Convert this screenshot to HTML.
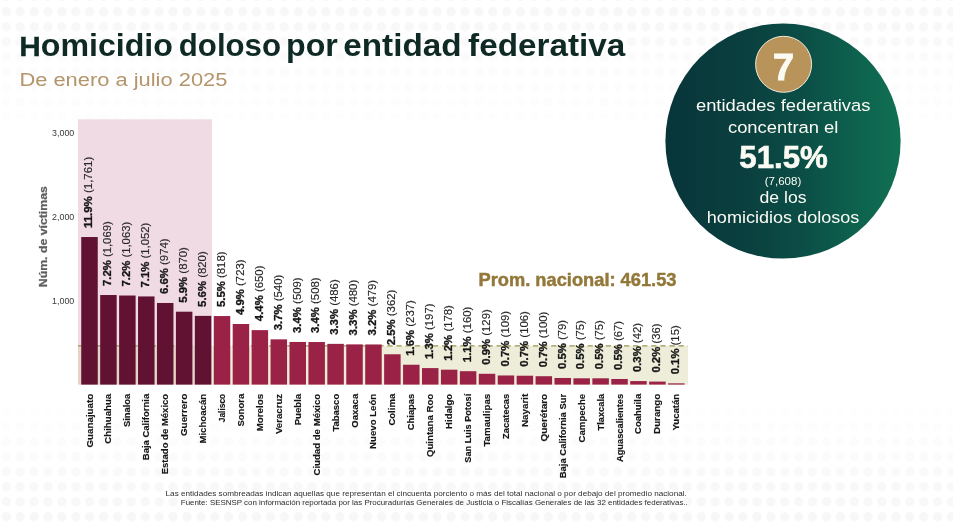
<!DOCTYPE html>
<html lang="es"><head><meta charset="utf-8"><title>Homicidio doloso por entidad federativa</title>
<style>
html,body{margin:0;padding:0;background:#fff;}
body{width:953px;height:523px;overflow:hidden;position:relative;font-family:"Liberation Sans",sans-serif;}
svg{position:absolute;left:0;top:0;display:block;}
text{font-family:"Liberation Sans",sans-serif;}
.t{font-weight:700;fill:#0f2a25;}
.st{fill:#b4946a;}
.ax{fill:#3a3a3a;font-size:8.9px;}
.yl{fill:#5e5e5e;stroke:#5e5e5e;stroke-width:0.25px;font-weight:700;font-size:11.8px;}
.bl{fill:#262626;stroke:#262626;stroke-width:0.12px;}
.bl .b{font-weight:700;fill:#161616;stroke:#161616;stroke-width:0.3px;}
.cl{fill:#161616;stroke:#161616;stroke-width:0.15px;font-weight:700;}
.fn{fill:#2e2e2e;font-size:8px;}
.cw{fill:#fbfbf4;}
</style></head><body>
<svg width="953" height="523" viewBox="0 0 953 523">
<defs>
<linearGradient id="gg" x1="0" y1="0" x2="1" y2="0"><stop offset="0" stop-color="#08353a"/><stop offset="0.35" stop-color="#0a403f"/><stop offset="0.6" stop-color="#0b4f47"/><stop offset="0.85" stop-color="#0e654f"/><stop offset="1" stop-color="#107052"/></linearGradient>
<pattern id="dots" x="-0.6" y="4.1" width="13.9" height="15.1" patternUnits="userSpaceOnUse"><circle cx="6.9" cy="7.5" r="4.7" fill="#f7f7f7"/></pattern>
<pattern id="dotsB" x="-0.6" y="12.9" width="13.9" height="15.04" patternUnits="userSpaceOnUse"><circle cx="6.9" cy="7.5" r="4.7" fill="#f7f7f7"/></pattern>
<linearGradient id="fadeT" x1="0" y1="0" x2="0" y2="1"><stop offset="0" stop-color="#fff" stop-opacity="0"/><stop offset="0.25" stop-color="#fff" stop-opacity="0.1"/><stop offset="0.5" stop-color="#fff" stop-opacity="0.65"/><stop offset="0.9" stop-color="#fff" stop-opacity="0.8"/><stop offset="1" stop-color="#fff" stop-opacity="1"/></linearGradient>
<linearGradient id="fadeB" x1="0" y1="1" x2="0" y2="0"><stop offset="0" stop-color="#fff" stop-opacity="0"/><stop offset="0.3" stop-color="#fff" stop-opacity="0.15"/><stop offset="0.55" stop-color="#fff" stop-opacity="0.6"/><stop offset="0.78" stop-color="#fff" stop-opacity="0.85"/><stop offset="1" stop-color="#fff" stop-opacity="1"/></linearGradient>
</defs>
<rect x="0" y="0" width="953" height="128" fill="url(#dots)"/><rect x="0" y="0" width="953" height="129" fill="url(#fadeT)"/>
<rect x="0" y="388" width="953" height="135" fill="url(#dotsB)"/><rect x="0" y="387" width="953" height="136" fill="url(#fadeB)"/>
<text class="t" y="55.6" font-size="30.6"><tspan x="19.2" textLength="153.7" lengthAdjust="spacingAndGlyphs"><tspan font-size="28.4" stroke="#0f2a25" stroke-width="0.35">H</tspan>omicidio</tspan> <tspan x="178.8" textLength="102.2" lengthAdjust="spacingAndGlyphs">doloso</tspan> <tspan x="286.0" textLength="51.8" lengthAdjust="spacingAndGlyphs">por</tspan> <tspan x="343.3" textLength="118.3" lengthAdjust="spacingAndGlyphs">entidad</tspan> <tspan x="468.1" textLength="157.3" lengthAdjust="spacingAndGlyphs">federativa</tspan></text>
<text class="st" x="19.4" y="85.8" font-size="19.1" textLength="208" lengthAdjust="spacingAndGlyphs">De enero a julio 2025</text>
<rect x="78" y="119.3" width="134" height="265.3" fill="#f0dbe4"/>
<rect x="78" y="345.9" width="610" height="38.7" fill="#c8c88c" fill-opacity="0.32"/>
<line x1="78" y1="345.9" x2="688" y2="345.9" stroke="#99964c" stroke-width="1.2" stroke-dasharray="5.2 3.9"/>
<text class="ax" x="74.3" y="304.0" text-anchor="end">1,000</text>
<text class="ax" x="74.3" y="220.2" text-anchor="end">2,000</text>
<text class="ax" x="74.3" y="136.4" text-anchor="end">3,000</text>
<text class="yl" transform="translate(47.4 236.7) rotate(-90)" text-anchor="middle" textLength="101" lengthAdjust="spacingAndGlyphs">Núm. de víctimas</text>
<rect x="81.25" y="237.03" width="16.5" height="147.57" fill="#611232"/>
<rect x="100.18" y="295.02" width="16.5" height="89.58" fill="#611232"/>
<rect x="119.11" y="295.52" width="16.5" height="89.08" fill="#611232"/>
<rect x="138.04" y="296.44" width="16.5" height="88.16" fill="#611232"/>
<rect x="156.97" y="302.98" width="16.5" height="81.62" fill="#611232"/>
<rect x="175.90" y="311.69" width="16.5" height="72.91" fill="#611232"/>
<rect x="194.83" y="315.88" width="16.5" height="68.72" fill="#611232"/>
<rect x="213.76" y="316.05" width="16.5" height="68.55" fill="#9b2247"/>
<rect x="232.69" y="324.01" width="16.5" height="60.59" fill="#9b2247"/>
<rect x="251.62" y="330.13" width="16.5" height="54.47" fill="#9b2247"/>
<rect x="270.55" y="339.35" width="16.5" height="45.25" fill="#9b2247"/>
<rect x="289.48" y="341.95" width="16.5" height="42.65" fill="#9b2247"/>
<rect x="308.41" y="342.03" width="16.5" height="42.57" fill="#9b2247"/>
<rect x="327.34" y="343.87" width="16.5" height="40.73" fill="#9b2247"/>
<rect x="346.27" y="344.38" width="16.5" height="40.22" fill="#9b2247"/>
<rect x="365.20" y="344.46" width="16.5" height="40.14" fill="#9b2247"/>
<rect x="384.13" y="354.26" width="16.5" height="30.34" fill="#9b2247"/>
<rect x="403.06" y="364.74" width="16.5" height="19.86" fill="#9b2247"/>
<rect x="421.99" y="368.09" width="16.5" height="16.51" fill="#9b2247"/>
<rect x="440.92" y="369.68" width="16.5" height="14.92" fill="#9b2247"/>
<rect x="459.85" y="371.19" width="16.5" height="13.41" fill="#9b2247"/>
<rect x="478.78" y="373.79" width="16.5" height="10.81" fill="#9b2247"/>
<rect x="497.71" y="375.47" width="16.5" height="9.13" fill="#9b2247"/>
<rect x="516.64" y="375.72" width="16.5" height="8.88" fill="#9b2247"/>
<rect x="535.57" y="376.22" width="16.5" height="8.38" fill="#9b2247"/>
<rect x="554.50" y="377.98" width="16.5" height="6.62" fill="#9b2247"/>
<rect x="573.43" y="378.31" width="16.5" height="6.29" fill="#9b2247"/>
<rect x="592.36" y="378.31" width="16.5" height="6.29" fill="#9b2247"/>
<rect x="611.29" y="378.99" width="16.5" height="5.61" fill="#9b2247"/>
<rect x="630.22" y="381.08" width="16.5" height="3.52" fill="#9b2247"/>
<rect x="649.15" y="381.58" width="16.5" height="3.02" fill="#9b2247"/>
<rect x="668.08" y="383.34" width="16.5" height="1.26" fill="#9b2247"/>
<text class="bl" font-size="10.3" textLength="71.3" lengthAdjust="spacingAndGlyphs" transform="translate(92.30 228.03) rotate(-90)"><tspan class="b">11.9%</tspan> (1,761)</text>
<text class="bl" font-size="10.3" textLength="64.8" lengthAdjust="spacingAndGlyphs" transform="translate(111.23 286.02) rotate(-90)"><tspan class="b">7.2%</tspan> (1,069)</text>
<text class="bl" font-size="10.3" textLength="64.8" lengthAdjust="spacingAndGlyphs" transform="translate(130.16 286.52) rotate(-90)"><tspan class="b">7.2%</tspan> (1,063)</text>
<text class="bl" font-size="10.3" textLength="64.8" lengthAdjust="spacingAndGlyphs" transform="translate(149.09 287.44) rotate(-90)"><tspan class="b">7.1%</tspan> (1,052)</text>
<text class="bl" font-size="10.3" textLength="55.6" lengthAdjust="spacingAndGlyphs" transform="translate(168.02 293.98) rotate(-90)"><tspan class="b">6.6%</tspan> (974)</text>
<text class="bl" font-size="10.3" textLength="55.6" lengthAdjust="spacingAndGlyphs" transform="translate(186.95 302.69) rotate(-90)"><tspan class="b">5.9%</tspan> (870)</text>
<text class="bl" font-size="10.3" textLength="55.6" lengthAdjust="spacingAndGlyphs" transform="translate(205.88 306.88) rotate(-90)"><tspan class="b">5.6%</tspan> (820)</text>
<text class="bl" font-size="10.3" textLength="55.6" lengthAdjust="spacingAndGlyphs" transform="translate(224.81 307.05) rotate(-90)"><tspan class="b">5.5%</tspan> (818)</text>
<text class="bl" font-size="10.3" textLength="55.6" lengthAdjust="spacingAndGlyphs" transform="translate(243.74 315.01) rotate(-90)"><tspan class="b">4.9%</tspan> (723)</text>
<text class="bl" font-size="10.3" textLength="55.6" lengthAdjust="spacingAndGlyphs" transform="translate(262.67 321.13) rotate(-90)"><tspan class="b">4.4%</tspan> (650)</text>
<text class="bl" font-size="10.3" textLength="55.6" lengthAdjust="spacingAndGlyphs" transform="translate(281.60 330.35) rotate(-90)"><tspan class="b">3.7%</tspan> (540)</text>
<text class="bl" font-size="10.3" textLength="55.6" lengthAdjust="spacingAndGlyphs" transform="translate(300.53 332.95) rotate(-90)"><tspan class="b">3.4%</tspan> (509)</text>
<text class="bl" font-size="10.3" textLength="55.6" lengthAdjust="spacingAndGlyphs" transform="translate(319.46 333.03) rotate(-90)"><tspan class="b">3.4%</tspan> (508)</text>
<text class="bl" font-size="10.3" textLength="55.6" lengthAdjust="spacingAndGlyphs" transform="translate(338.39 334.87) rotate(-90)"><tspan class="b">3.3%</tspan> (486)</text>
<text class="bl" font-size="10.3" textLength="55.6" lengthAdjust="spacingAndGlyphs" transform="translate(357.32 335.38) rotate(-90)"><tspan class="b">3.3%</tspan> (480)</text>
<text class="bl" font-size="10.3" textLength="55.6" lengthAdjust="spacingAndGlyphs" transform="translate(376.25 335.46) rotate(-90)"><tspan class="b">3.2%</tspan> (479)</text>
<text class="bl" font-size="10.3" textLength="55.6" lengthAdjust="spacingAndGlyphs" transform="translate(395.18 345.26) rotate(-90)"><tspan class="b">2.5%</tspan> (362)</text>
<text class="bl" font-size="10.3" textLength="55.6" lengthAdjust="spacingAndGlyphs" transform="translate(414.11 355.74) rotate(-90)"><tspan class="b">1.6%</tspan> (237)</text>
<text class="bl" font-size="10.3" textLength="55.6" lengthAdjust="spacingAndGlyphs" transform="translate(433.04 359.09) rotate(-90)"><tspan class="b">1.3%</tspan> (197)</text>
<text class="bl" font-size="10.3" textLength="55.6" lengthAdjust="spacingAndGlyphs" transform="translate(451.97 360.68) rotate(-90)"><tspan class="b">1.2%</tspan> (178)</text>
<text class="bl" font-size="10.3" textLength="55.6" lengthAdjust="spacingAndGlyphs" transform="translate(470.90 362.19) rotate(-90)"><tspan class="b">1.1%</tspan> (160)</text>
<text class="bl" font-size="10.3" textLength="55.6" lengthAdjust="spacingAndGlyphs" transform="translate(489.83 364.79) rotate(-90)"><tspan class="b">0.9%</tspan> (129)</text>
<text class="bl" font-size="10.3" textLength="55.6" lengthAdjust="spacingAndGlyphs" transform="translate(508.76 366.47) rotate(-90)"><tspan class="b">0.7%</tspan> (109)</text>
<text class="bl" font-size="10.3" textLength="55.6" lengthAdjust="spacingAndGlyphs" transform="translate(527.69 366.72) rotate(-90)"><tspan class="b">0.7%</tspan> (106)</text>
<text class="bl" font-size="10.3" textLength="55.6" lengthAdjust="spacingAndGlyphs" transform="translate(546.62 367.22) rotate(-90)"><tspan class="b">0.7%</tspan> (100)</text>
<text class="bl" font-size="10.3" textLength="49.1" lengthAdjust="spacingAndGlyphs" transform="translate(565.55 368.98) rotate(-90)"><tspan class="b">0.5%</tspan> (79)</text>
<text class="bl" font-size="10.3" textLength="49.1" lengthAdjust="spacingAndGlyphs" transform="translate(584.48 369.31) rotate(-90)"><tspan class="b">0.5%</tspan> (75)</text>
<text class="bl" font-size="10.3" textLength="49.1" lengthAdjust="spacingAndGlyphs" transform="translate(603.41 369.31) rotate(-90)"><tspan class="b">0.5%</tspan> (75)</text>
<text class="bl" font-size="10.3" textLength="49.1" lengthAdjust="spacingAndGlyphs" transform="translate(622.34 369.99) rotate(-90)"><tspan class="b">0.5%</tspan> (67)</text>
<text class="bl" font-size="10.3" textLength="49.1" lengthAdjust="spacingAndGlyphs" transform="translate(641.27 372.08) rotate(-90)"><tspan class="b">0.3%</tspan> (42)</text>
<text class="bl" font-size="10.3" textLength="49.1" lengthAdjust="spacingAndGlyphs" transform="translate(660.20 372.58) rotate(-90)"><tspan class="b">0.2%</tspan> (36)</text>
<text class="bl" font-size="10.3" textLength="49.1" lengthAdjust="spacingAndGlyphs" transform="translate(679.13 374.34) rotate(-90)"><tspan class="b">0.1%</tspan> (15)</text>
<text class="cl" font-size="9.6" text-anchor="end" textLength="53.7" lengthAdjust="spacingAndGlyphs" transform="translate(92.50 393.8) rotate(-90)">Guanajuato</text>
<text class="cl" font-size="9.6" text-anchor="end" textLength="49.9" lengthAdjust="spacingAndGlyphs" transform="translate(111.43 393.8) rotate(-90)">Chihuahua</text>
<text class="cl" font-size="9.6" text-anchor="end" textLength="33.3" lengthAdjust="spacingAndGlyphs" transform="translate(130.36 393.8) rotate(-90)">Sinaloa</text>
<text class="cl" font-size="9.6" text-anchor="end" textLength="66.4" lengthAdjust="spacingAndGlyphs" transform="translate(149.29 393.8) rotate(-90)">Baja California</text>
<text class="cl" font-size="9.6" text-anchor="end" textLength="80.5" lengthAdjust="spacingAndGlyphs" transform="translate(168.22 393.8) rotate(-90)">Estado de México</text>
<text class="cl" font-size="9.6" text-anchor="end" textLength="42.3" lengthAdjust="spacingAndGlyphs" transform="translate(187.15 393.8) rotate(-90)">Guerrero</text>
<text class="cl" font-size="9.6" text-anchor="end" textLength="49.8" lengthAdjust="spacingAndGlyphs" transform="translate(206.08 393.8) rotate(-90)">Michoacán</text>
<text class="cl" font-size="9.6" text-anchor="end" textLength="28.4" lengthAdjust="spacingAndGlyphs" transform="translate(225.01 393.8) rotate(-90)">Jalisco</text>
<text class="cl" font-size="9.6" text-anchor="end" textLength="32.8" lengthAdjust="spacingAndGlyphs" transform="translate(243.94 393.8) rotate(-90)">Sonora</text>
<text class="cl" font-size="9.6" text-anchor="end" textLength="37.5" lengthAdjust="spacingAndGlyphs" transform="translate(262.87 393.8) rotate(-90)">Morelos</text>
<text class="cl" font-size="9.6" text-anchor="end" textLength="40.3" lengthAdjust="spacingAndGlyphs" transform="translate(281.80 393.8) rotate(-90)">Veracruz</text>
<text class="cl" font-size="9.6" text-anchor="end" textLength="31.5" lengthAdjust="spacingAndGlyphs" transform="translate(300.73 393.8) rotate(-90)">Puebla</text>
<text class="cl" font-size="9.6" text-anchor="end" textLength="81.7" lengthAdjust="spacingAndGlyphs" transform="translate(319.66 393.8) rotate(-90)">Ciudad de México</text>
<text class="cl" font-size="9.6" text-anchor="end" textLength="37.8" lengthAdjust="spacingAndGlyphs" transform="translate(338.59 393.8) rotate(-90)">Tabasco</text>
<text class="cl" font-size="9.6" text-anchor="end" textLength="33.9" lengthAdjust="spacingAndGlyphs" transform="translate(357.52 393.8) rotate(-90)">Oaxaca</text>
<text class="cl" font-size="9.6" text-anchor="end" textLength="55.1" lengthAdjust="spacingAndGlyphs" transform="translate(376.45 393.8) rotate(-90)">Nuevo León</text>
<text class="cl" font-size="9.6" text-anchor="end" textLength="31.8" lengthAdjust="spacingAndGlyphs" transform="translate(395.38 393.8) rotate(-90)">Colima</text>
<text class="cl" font-size="9.6" text-anchor="end" textLength="36.4" lengthAdjust="spacingAndGlyphs" transform="translate(414.31 393.8) rotate(-90)">Chiapas</text>
<text class="cl" font-size="9.6" text-anchor="end" textLength="63.3" lengthAdjust="spacingAndGlyphs" transform="translate(433.24 393.8) rotate(-90)">Quintana Roo</text>
<text class="cl" font-size="9.6" text-anchor="end" textLength="35.1" lengthAdjust="spacingAndGlyphs" transform="translate(452.17 393.8) rotate(-90)">Hidalgo</text>
<text class="cl" font-size="9.6" text-anchor="end" textLength="68.9" lengthAdjust="spacingAndGlyphs" transform="translate(471.10 393.8) rotate(-90)">San Luis Potosí</text>
<text class="cl" font-size="9.6" text-anchor="end" textLength="52.8" lengthAdjust="spacingAndGlyphs" transform="translate(490.03 393.8) rotate(-90)">Tamaulipas</text>
<text class="cl" font-size="9.6" text-anchor="end" textLength="45.1" lengthAdjust="spacingAndGlyphs" transform="translate(508.96 393.8) rotate(-90)">Zacatecas</text>
<text class="cl" font-size="9.6" text-anchor="end" textLength="33.3" lengthAdjust="spacingAndGlyphs" transform="translate(527.89 393.8) rotate(-90)">Nayarit</text>
<text class="cl" font-size="9.6" text-anchor="end" textLength="47.7" lengthAdjust="spacingAndGlyphs" transform="translate(546.82 393.8) rotate(-90)">Querétaro</text>
<text class="cl" font-size="9.6" text-anchor="end" textLength="84.4" lengthAdjust="spacingAndGlyphs" transform="translate(565.75 393.8) rotate(-90)">Baja California Sur</text>
<text class="cl" font-size="9.6" text-anchor="end" textLength="48.7" lengthAdjust="spacingAndGlyphs" transform="translate(584.68 393.8) rotate(-90)">Campeche</text>
<text class="cl" font-size="9.6" text-anchor="end" textLength="36.7" lengthAdjust="spacingAndGlyphs" transform="translate(603.61 393.8) rotate(-90)">Tlaxcala</text>
<text class="cl" font-size="9.6" text-anchor="end" textLength="68.3" lengthAdjust="spacingAndGlyphs" transform="translate(622.54 393.8) rotate(-90)">Aguascalientes</text>
<text class="cl" font-size="9.6" text-anchor="end" textLength="40.2" lengthAdjust="spacingAndGlyphs" transform="translate(641.47 393.8) rotate(-90)">Coahuila</text>
<text class="cl" font-size="9.6" text-anchor="end" textLength="40.1" lengthAdjust="spacingAndGlyphs" transform="translate(660.40 393.8) rotate(-90)">Durango</text>
<text class="cl" font-size="9.6" text-anchor="end" textLength="36.7" lengthAdjust="spacingAndGlyphs" transform="translate(679.33 393.8) rotate(-90)">Yucatán</text>
<text x="478.5" y="286.2" font-size="17.7" font-weight="700" fill="#93783a" stroke="#93783a" stroke-width="0.45" textLength="198" lengthAdjust="spacingAndGlyphs">Prom. nacional: 461.53</text>
<text class="fn" x="165.6" y="496.4" textLength="521.2" lengthAdjust="spacingAndGlyphs">Las entidades sombreadas indican aquellas que representan el cincuenta porciento o más del total nacional o por debajo del promedio nacional.</text>
<text class="fn" x="180.8" y="505.1" textLength="507" lengthAdjust="spacingAndGlyphs">Fuente: SESNSP con información reportada por las Procuradurías Generales de Justicia o Fiscalías Generales de las 32 entidades federativas..</text>
<circle cx="783" cy="141" r="117.6" fill="url(#gg)"/>
<circle cx="783.6" cy="64.3" r="28" fill="#b8935a" stroke="#f3ead8" stroke-width="1"/>
<text class="cw" x="783.4" y="80.4" font-size="37.8" font-weight="700" text-anchor="middle" stroke="#fbfbf4" stroke-width="0.9">7</text>
<text class="cw" x="783.2" y="111.0" font-size="17.1" text-anchor="middle" textLength="174.5" lengthAdjust="spacingAndGlyphs">entidades federativas</text>
<text class="cw" x="783.2" y="133.0" font-size="17.1" text-anchor="middle" textLength="110.5" lengthAdjust="spacingAndGlyphs">concentran el</text>
<text class="cw" x="783.6" y="167.9" font-size="31.7" font-weight="700" text-anchor="middle" stroke="#fbfbf4" stroke-width="0.6" textLength="88.5" lengthAdjust="spacingAndGlyphs">51.5%</text>
<text class="cw" x="783" y="185.1" font-size="11.6" text-anchor="middle" textLength="36.5" lengthAdjust="spacingAndGlyphs">(7,608)</text>
<text class="cw" x="783" y="202.6" font-size="17.1" text-anchor="middle" textLength="47" lengthAdjust="spacingAndGlyphs">de los</text>
<text class="cw" x="783.1" y="222.6" font-size="17.1" text-anchor="middle" textLength="152.6" lengthAdjust="spacingAndGlyphs">homicidios dolosos</text>
</svg></body></html>
